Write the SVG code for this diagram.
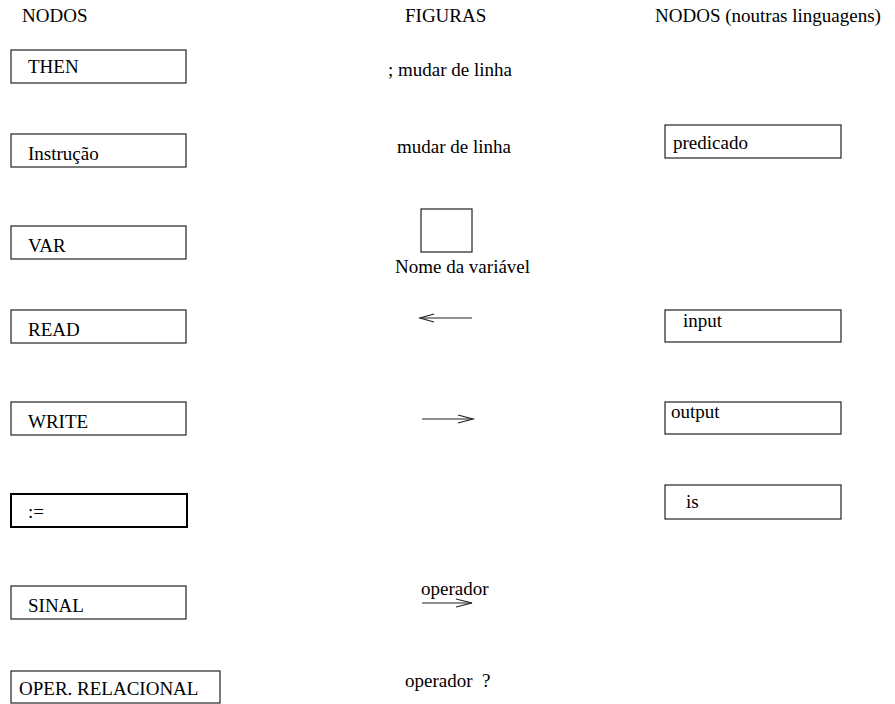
<svg xmlns="http://www.w3.org/2000/svg" width="895" height="704" viewBox="0 0 895 704" font-family="'Liberation Serif', 'Times New Roman', serif" font-size="19">
<style>
.box{fill:#fff;stroke:#222;stroke-width:1.2}
.thick{stroke:#000;stroke-width:2}
.ln{fill:none;stroke:#222;stroke-width:1.2}
</style>
<rect width="895" height="704" fill="#fff"/>
<g id="headers">
<text style="font-family:'Liberation Serif',serif" x="22" y="22">NODOS</text>
<text style="font-family:'Liberation Serif',serif" x="405" y="22">FIGURAS</text>
<text style="font-family:'Liberation Serif',serif" x="655" y="22">NODOS (noutras linguagens)</text>
</g>
<g id="n-then"><rect class="box" x="11" y="50" width="175" height="33"/><text style="font-family:'Liberation Serif',serif" x="28" y="73">THEN</text></g>
<g id="n-instrucao"><rect class="box" x="11" y="134" width="175" height="33"/><text style="font-family:'Liberation Serif',serif" x="28" y="160">Instrução</text></g>
<g id="n-var"><rect class="box" x="11" y="226" width="175" height="33"/><text style="font-family:'Liberation Serif',serif" x="28" y="252">VAR</text></g>
<g id="n-read"><rect class="box" x="11" y="310" width="175" height="33"/><text style="font-family:'Liberation Serif',serif" x="28" y="336">READ</text></g>
<g id="n-write"><rect class="box" x="11" y="402" width="175" height="33"/><text style="font-family:'Liberation Serif',serif" x="28" y="428">WRITE</text></g>
<g id="n-assign"><rect class="box thick" x="11" y="494" width="176" height="33"/><text style="font-family:'Liberation Serif',serif" x="28" y="518">:=</text></g>
<g id="n-sinal"><rect class="box" x="11" y="586" width="175" height="33"/><text style="font-family:'Liberation Serif',serif" x="28" y="612">SINAL</text></g>
<g id="n-oper"><rect class="box" x="11" y="671" width="209" height="32"/><text style="font-family:'Liberation Serif',serif" x="19" y="695">OPER. RELACIONAL</text></g>
<g id="f-then"><text style="font-family:'Liberation Serif',serif" x="388" y="76">; mudar de linha</text></g>
<g id="f-instrucao"><text style="font-family:'Liberation Serif',serif" x="397" y="153">mudar de linha</text></g>
<g id="f-var"><rect class="box" x="421" y="209" width="51" height="43"/><text style="font-family:'Liberation Serif',serif" x="395" y="273">Nome da variável</text></g>
<g id="connectors">
<g id="f-read"><line class="ln" x1="472" y1="318" x2="420" y2="318"/><polyline class="ln" points="434,314 420,318 434,322"/></g>
<g id="f-write"><line class="ln" x1="422" y1="419" x2="473" y2="419"/><polyline class="ln" points="458,415 473,419 458,423"/></g>
<g id="f-sinal"><line class="ln" x1="422" y1="603" x2="472" y2="603"/><polyline class="ln" points="456,599 472,603 456,607"/></g>
</g>
<g id="f-sinal-label"><text style="font-family:'Liberation Serif',serif" x="421" y="595">operador</text></g>
<g id="f-oper"><text style="font-family:'Liberation Serif',serif" x="405" y="687">operador&#160; ?</text></g>
<g id="r-predicado"><rect class="box" x="665" y="125" width="176" height="33"/><text style="font-family:'Liberation Serif',serif" x="673" y="149">predicado</text></g>
<g id="r-input"><rect class="box" x="665" y="310" width="176" height="32"/><text style="font-family:'Liberation Serif',serif" x="683" y="327">input</text></g>
<g id="r-output"><rect class="box" x="665" y="402" width="176" height="32"/><text style="font-family:'Liberation Serif',serif" x="671" y="418">output</text></g>
<g id="r-is"><rect class="box" x="665" y="485" width="176" height="34"/><text style="font-family:'Liberation Serif',serif" x="686" y="508">is</text></g>
</svg>
